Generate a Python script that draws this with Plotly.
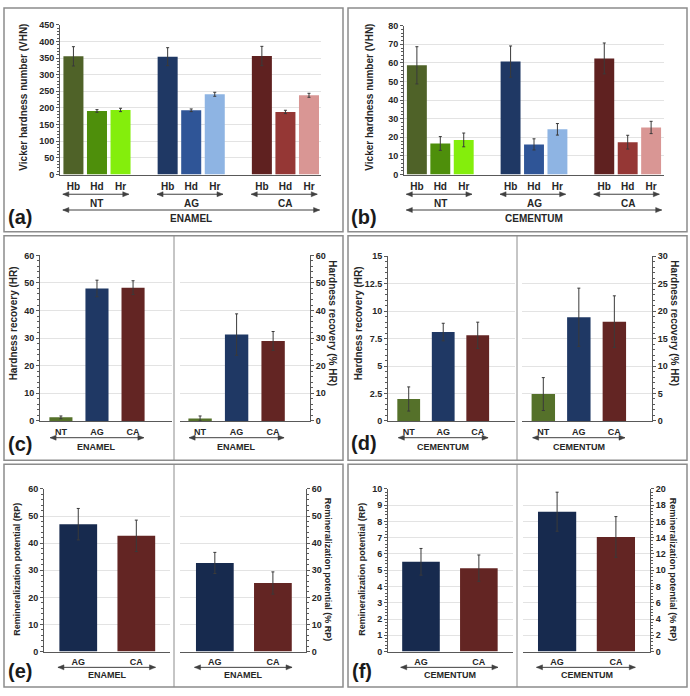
import plotly.graph_objects as go

# ---------------- data ----------------
groups = ["NT", "AG", "CA"]
subs = ["Hb", "Hd", "Hr"]

a_vals = [[355, 191, 194], [354, 193, 241], [356, 188, 238]]
a_err = [[29, 4, 5], [27, 4, 6], [29, 5, 6]]
b_vals = [[58.7, 16.7, 18.6], [60.7, 16.2, 24.3], [62.4, 17.4, 25.3]]
b_err = [[10.0, 3.7, 3.7], [8.4, 3.0, 3.1], [8.3, 3.7, 3.3]]

cd_cats = ["NT", "AG", "CA"]
c_hr = [1.3, 48.0, 48.3]
c_hr_err = [0.5, 3.0, 2.5]
c_pct = [0.9, 31.3, 29.0]
c_pct_err = [0.9, 7.5, 3.4]
d_hr = [2.0, 8.1, 7.8]
d_hr_err = [1.1, 0.8, 1.2]
d_pct = [4.9, 18.9, 18.1]
d_pct_err = [3.0, 5.3, 4.7]

ef_cats = ["AG", "CA"]
e_rp = [47.0, 42.7]
e_rp_err = [5.8, 5.8]
e_pct = [32.7, 25.3]
e_pct_err = [3.9, 4.1]
f_rp = [5.52, 5.13]
f_rp_err = [0.82, 0.81]
f_pct = [17.2, 14.1]
f_pct_err = [2.4, 2.5]

# ---------------- styling ----------------
W, H = 690, 696
FONT = "Arial, Liberation Sans, sans-serif"
TXT = "#262626"
AX = "#595959"
sub_colors = [["#4f6228", "#4e8f0b", "#84ee0c"],
              ["#1f3864", "#2f5597", "#8eb4e3"],
              ["#5f2120", "#953735", "#d99694"]]
cd_colors = ["#55712a", "#1f3864", "#632523"]
ef_colors = ["#172a4e", "#632523"]


def X(p):
    return p / W


def Y(p):
    return 1 - p / H


fig = go.Figure()
layout = dict(width=W, height=H, margin=dict(l=0, r=0, t=0, b=0),
              paper_bgcolor="white", plot_bgcolor="white", showlegend=False,
              font=dict(family=FONT, color=TXT))
annotations = []
shapes = []


def add_axes(n, xpix, ypix, xr, yr, dtick, mdtick, side="left",
             tickvals=None, ticktext=None, xfs=10, standoff=3):
    xk = "xaxis" if n == 1 else f"xaxis{n}"
    yk = "yaxis" if n == 1 else f"yaxis{n}"
    xid = "x" if n == 1 else f"x{n}"
    yid = "y" if n == 1 else f"y{n}"
    layout[xk] = dict(domain=[X(xpix[0]), X(xpix[1])], range=list(xr), anchor=yid,
                      showline=True, linecolor=AX, linewidth=1, ticks="",
                      showgrid=False, zeroline=False, tickvals=tickvals, ticktext=ticktext,
                      tickfont=dict(size=xfs, family=FONT, color=TXT, weight="bold"),
                      ticklabelstandoff=standoff, fixedrange=True)
    layout[yk] = dict(domain=[Y(ypix[1]), Y(ypix[0])], range=list(yr), anchor=xid,
                      side=side, showline=True, linecolor=AX, linewidth=1,
                      ticks="outside", ticklen=3, tickcolor=AX, dtick=dtick, tick0=0,
                      minor=dict(dtick=mdtick, ticks="outside", ticklen=2, tickcolor=AX,
                                 showgrid=False),
                      showgrid=True, gridcolor="#e3e3e3", gridwidth=1, zeroline=False,
                      tickfont=dict(size=9, family=FONT, color=TXT, weight="bold"),
                      fixedrange=True)
    return xid, yid


def bar(xid, yid, xs, vals, errs, colors, width):
    fig.add_trace(go.Bar(x=xs, y=vals, xaxis=xid, yaxis=yid, width=width,
                         marker=dict(color=colors, line=dict(width=0)),
                         error_y=dict(type="data", array=errs, color="#3a3a3a",
                                      thickness=1, width=1.5)))


def arrow(xid, x0, x1, ypix):
    yy = Y(ypix)
    col = "#404040"
    shapes.append(dict(type="line", xref=xid, yref="paper", x0=x0, x1=x1, y0=yy, y1=yy,
                       line=dict(color=col, width=1)))
    # arrowheads (pixel-sized, anchored at the line ends)
    shapes.append(dict(type="path", xref=xid, yref="paper", xsizemode="pixel",
                       ysizemode="pixel", xanchor=x0, yanchor=yy,
                       path="M 0 0 L 6 2.5 L 6 -2.5 Z", fillcolor=col,
                       line=dict(color=col, width=0.5)))
    shapes.append(dict(type="path", xref=xid, yref="paper", xsizemode="pixel",
                       ysizemode="pixel", xanchor=x1, yanchor=yy,
                       path="M 0 0 L -6 2.5 L -6 -2.5 Z", fillcolor=col,
                       line=dict(color=col, width=0.5)))


def label(xref, x, ypix, text, size=10, angle=0):
    annotations.append(dict(xref=xref, yref="paper", x=x, y=Y(ypix), text=text,
                            showarrow=False, textangle=angle, xanchor="center",
                            yanchor="middle",
                            font=dict(size=size, family=FONT, color=TXT, weight="bold")))


# ---------------- panels (a) and (b) ----------------
def grouped_panel(n, xpix, ypix, xr, yr, dtick, mdtick, vals, errs, title, titlex, ymid, tissue):
    pos = [g * 4 + i for g in range(len(groups)) for i in range(len(subs))]
    xid, yid = add_axes(n, xpix, ypix, xr, yr, dtick, mdtick, tickvals=pos,
                        ticktext=subs * len(groups), xfs=10, standoff=2)
    flat_v = [v for row in vals for v in row]
    flat_e = [e for row in errs for e in row]
    flat_c = [c for row in sub_colors for c in row]
    bar(xid, yid, pos, flat_v, flat_e, flat_c, 0.85)
    for g, name in enumerate(groups):
        arrow(xid, g * 4 - 0.45, g * 4 + 2.35, 192)
        label(xid, g * 4 + 1, 201, name, size=10)
    arrow(xid, -0.45, (len(groups) - 1) * 4 + 2.45, 208)
    label(xid, (len(groups) - 1) * 4 / 2 + 1, 217, tissue, size=10)
    label("paper", X(titlex), ymid, title, size=10, angle=-90)


grouped_panel(1, (60, 321), (20, 172), (-0.57, 10.51), (0, 450), 50, 10,
              a_vals, a_err, "Vicker hardness number (VHN)", 24, 94, "ENAMEL")
grouped_panel(2, (404, 664), (21, 172), (-0.55, 10.55), (0, 80), 10, 2,
              b_vals, b_err, "Vicker hardness number (VHN)", 370, 94, "CEMENTUM")


# ---------------- panels (c)-(f) ----------------
def simple_panel(n, xpix, ypix, xr, yr, dtick, mdtick, side, cats, vals, errs, colors,
                 width, title, titlex, ymid, tissue, arr, arrow_y, tissue_y):
    pos = list(range(len(cats)))
    xid, yid = add_axes(n, xpix, ypix, xr, yr, dtick, mdtick, side=side,
                        tickvals=pos, ticktext=cats, xfs=9, standoff=2)
    bar(xid, yid, pos, vals, errs, colors, width)
    arrow(xid, arr[0], arr[1], arrow_y)
    label(xid, (len(cats) - 1) / 2, tissue_y, tissue, size=9)
    label("paper", X(titlex), ymid, title, size=10 if len(title) < 26 else 9,
          angle=-90 if side == "left" else 90)


simple_panel(3, (40, 172), (254, 422), (-0.58, 3.08), (0, 60), 10, 2, "left",
             cd_cats, c_hr, c_hr_err, cd_colors, 0.64, "Hardness recovery (HR)",
             13, 323, "ENAMEL", (-0.3, 2.3), 439, 448)
simple_panel(4, (180, 310), (254, 422), (-0.55, 3.01), (0, 60), 10, 2, "right",
             cd_cats, c_pct, c_pct_err, cd_colors, 0.64, "Hardness recovery (% HR)",
             333, 323, "ENAMEL", (-0.3, 2.3), 439, 448)
simple_panel(5, (388, 515), (255, 422), (-0.6, 3.08), (0, 15), 2.5, 0.5, "left",
             cd_cats, d_hr, d_hr_err, cd_colors, 0.66, "Hardness recovery (HR)",
             358, 323, "CEMENTUM", (-0.3, 2.3), 439, 448)
simple_panel(6, (522, 652), (255, 422), (-0.6, 3.06), (0, 30), 5, 1, "right",
             cd_cats, d_pct, d_pct_err, cd_colors, 0.66, "Hardness recovery (% HR)",
             675, 323, "CEMENTUM", (-0.3, 2.3), 439, 448)
simple_panel(7, (44, 170), (491, 656), (-0.59, 1.58), (0, 60), 10, 2, "left",
             ef_cats, e_rp, e_rp_err, ef_colors, 0.65, "Remineralization potential (RP)",
             17, 573, "ENAMEL", (-0.35, 1.33), 672, 680)
simple_panel(8, (180, 306), (491, 656), (-0.6, 1.57), (0, 60), 10, 2, "right",
             ef_cats, e_pct, e_pct_err, ef_colors, 0.65, "Remineralization potential (% RP)",
             328, 573, "ENAMEL", (-0.35, 1.33), 672, 680)
simple_panel(9, (388, 513), (491, 656), (-0.57, 1.59), (0, 10), 1, 0.2, "left",
             ef_cats, f_rp, f_rp_err, ef_colors, 0.65, "Remineralization potential (RP)",
             362, 573, "CEMENTUM", (-0.35, 1.33), 672, 680)
simple_panel(10, (523, 650), (491, 656), (-0.58, 1.58), (0, 20), 2, 0.4, "right",
             ef_cats, f_pct, f_pct_err, ef_colors, 0.65, "Remineralization potential (% RP)",
             673, 573, "CEMENTUM", (-0.35, 1.33), 672, 680)

# ---------------- frames and panel letters ----------------
boxes = [(4, 3, 343, 230), (348, 3, 687, 230), (4, 234, 343, 462),
         (348, 234, 687, 462), (4, 466, 343, 692), (348, 466, 687, 692)]
for x0, y0, x1, y1 in boxes:
    shapes.append(dict(type="rect", xref="paper", yref="paper", x0=X(x0), x1=X(x1),
                       y0=Y(y1), y1=Y(y0), line=dict(color="#8c8c8c", width=1.5),
                       layer="below"))
for xd, y0, y1 in [(174, 234, 462), (517, 234, 462), (174, 466, 692), (517, 466, 692)]:
    shapes.append(dict(type="line", xref="paper", yref="paper", x0=X(xd), x1=X(xd),
                       y0=Y(y1), y1=Y(y0), line=dict(color="#8c8c8c", width=1)))

letters = [("(a)", 20, 215), ("(b)", 364, 215), ("(c)", 20, 445),
           ("(d)", 364, 444), ("(e)", 20, 676), ("(f)", 362, 676)]
for t, lx, ly in letters:
    annotations.append(dict(xref="paper", yref="paper", x=X(lx), y=Y(ly), text=t,
                            showarrow=False, xanchor="center", yanchor="middle",
                            font=dict(size=20, family=FONT, color="#1a1a1a", weight="bold")))

layout["annotations"] = annotations
layout["shapes"] = shapes
fig.update_layout(**layout)
fig.write_html("out.html")
